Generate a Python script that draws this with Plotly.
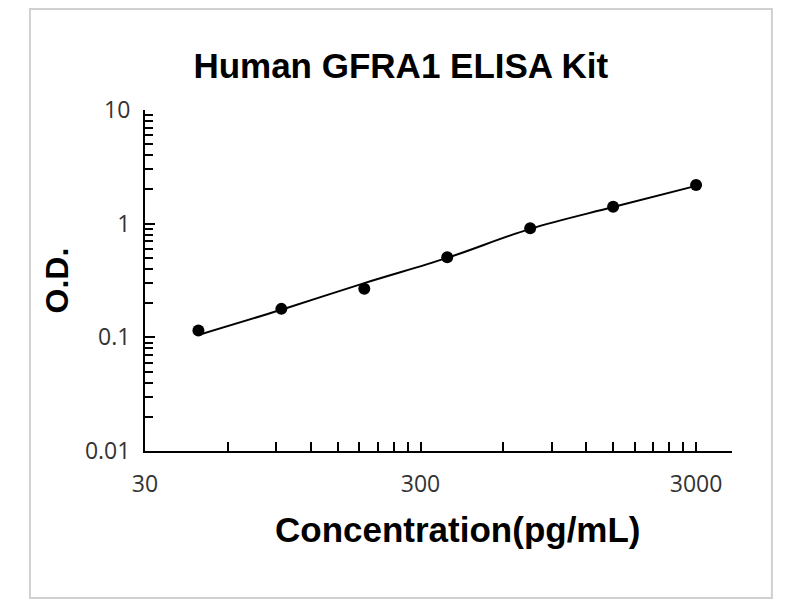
import plotly.graph_objects as go

# standard curve
conc = [46.875, 93.75, 187.5, 375, 750, 1500, 3000]
od = [0.115, 0.178, 0.267, 0.506, 0.91, 1.41, 2.19]
# fitted curve, read at the same concentrations
od_fit = [0.105, 0.175, 0.300, 0.500, 0.90, 1.40, 2.15]

x_major = [30, 300, 3000]
x_minor = [60, 90, 120, 150, 180, 210, 240, 270,
           600, 900, 1200, 1500, 1800, 2100, 2400, 2700]
y_major = [0.01, 0.1, 1, 10]
y_minor = [m * d for d in [0.01, 0.1, 1] for m in range(2, 10)]

fig = go.Figure()

fig.add_trace(go.Scatter(x=conc, y=od_fit, mode="lines",
                         line=dict(color="black", width=2, shape="spline"),
                         hoverinfo="skip", showlegend=False))
fig.add_trace(go.Scatter(x=conc, y=od, mode="markers",
                         marker=dict(color="black", size=12),
                         showlegend=False))

tick_font = dict(family="Open Sans, DejaVu Sans, sans-serif", size=23, color="#333333")
title_font = dict(family="Liberation Sans, Arial, sans-serif", size=35, color="black")

fig.update_xaxes(type="log", range=[1.4771, 3.6075],
                 showline=True, linecolor="black", linewidth=2,
                 showgrid=False, zeroline=False,
                 tickmode="array", tickvals=x_major, ticktext=["30", "300", "3000"],
                 ticks="inside", ticklen=9, tickwidth=2, tickcolor="black",
                 minor=dict(tickmode="array", tickvals=x_minor, ticks="inside",
                            ticklen=9, tickwidth=2, tickcolor="black", showgrid=False),
                 tickfont=tick_font, ticklabelstandoff=11)

fig.update_yaxes(type="log", range=[-2, 1],
                 showline=True, linecolor="black", linewidth=2,
                 showgrid=False, zeroline=False,
                 tickmode="array", tickvals=y_major, ticktext=["0.01", "0.1", "1", "10"],
                 ticks="inside", ticklen=10, tickwidth=2, tickcolor="black",
                 minor=dict(tickmode="array", tickvals=y_minor, ticks="inside",
                            ticklen=8, tickwidth=2, tickcolor="black", showgrid=False),
                 tickfont=tick_font, ticklabelstandoff=8)

# axis titles as annotations so they can sit where the original has them
fig.add_annotation(text="<b>Concentration(pg/mL)</b>", font=title_font,
                   xref="paper", yref="paper", x=0.534, y=-0.229,
                   xanchor="center", yanchor="middle", showarrow=False)
fig.add_annotation(text="<b>O.D.</b>", font=dict(title_font, size=32),
                   xref="paper", yref="paper", x=-0.150, y=0.5, textangle=-90,
                   xanchor="center", yanchor="middle", showarrow=False)

fig.update_layout(
    width=800, height=600,
    margin=dict(l=137, r=76, t=102, b=157),
    paper_bgcolor="white", plot_bgcolor="white",
    title=dict(text="<b>Human GFRA1 ELISA Kit</b>", font=title_font,
               x=0.491, xanchor="center", y=0.903, yanchor="middle"),
    shapes=[dict(type="rect", xref="paper", yref="paper",
                 x0=-0.196, x1=1.068, y0=-0.431, y1=1.296,
                 line=dict(color="#d0d0d0", width=2), layer="below")],
)

fig.write_html("out.html")
